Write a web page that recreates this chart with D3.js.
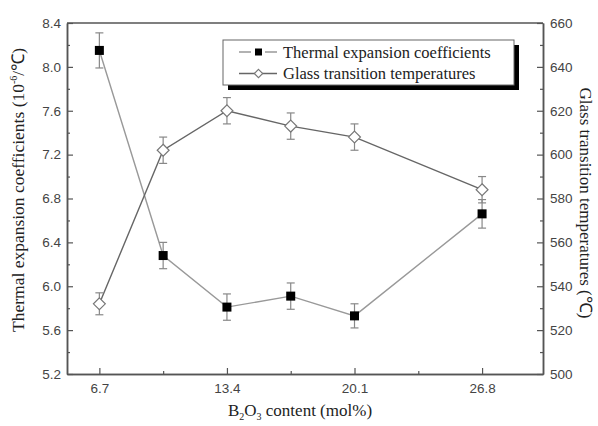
<!DOCTYPE html>
<html>
<head>
<meta charset="utf-8">
<script src="https://cdn.jsdelivr.net/npm/d3@7"></script>
<style>
  body { margin: 0; background: #fff; }
  .tick text { font-family: "Liberation Sans", Arial, sans-serif; font-size: 13.5px; fill: #444; }
  .serif { font-family: "Liberation Serif", "Times New Roman", serif; fill: #222; }
</style>
</head>
<body>
<div id="chart"></div>
<script>
// B2O3 content (mol%)
var content = [6.7, 10.05, 13.4, 16.75, 20.1, 26.8];
// Thermal expansion coefficients (10^-6/C) and error
var thermal = [8.15, 6.28, 5.81, 5.91, 5.73, 6.66];
var thermalErr = [0.16, 0.12, 0.12, 0.12, 0.11, 0.13];
// Glass transition temperatures (C) and error
var glass = [532, 602, 620, 613, 608, 584];
var glassErr = [5, 6, 6, 6, 6, 6];

var xTicks = [6.7, 13.4, 20.1, 26.8];
var xMinor = [10.05, 16.75, 23.45];
var leftTicks = [5.2, 5.6, 6.0, 6.4, 6.8, 7.2, 7.6, 8.0, 8.4];
var rightTicks = [500, 520, 540, 560, 580, 600, 620, 640, 660];

var margin = { top: 23, right: 55, bottom: 52, left: 67 };
var width = 598 - margin.left - margin.right;
var height = 426 - margin.top - margin.bottom;

var svg = d3.select("#chart").append("svg")
  .attr("width", 598).attr("height", 426)
  .append("g")
  .attr("transform", "translate(" + margin.left + "," + margin.top + ")");

var x = d3.scaleLinear().domain([5, 30]).range([0, width]);
var yL = d3.scaleLinear().domain([5.2, 8.4]).range([height, 0]);
var yR = d3.scaleLinear().domain([500, 660]).range([height, 0]);

var axisColor = "#555";

// minor ticks
function minors(ticks) {
  var out = [];
  for (var i = 0; i < ticks.length - 1; i++) out.push((ticks[i] + ticks[i + 1]) / 2);
  return out;
}

// x axis
svg.append("g").attr("transform", "translate(0," + height + ")")
  .call(d3.axisBottom(x).tickValues(xTicks).tickFormat(d3.format(".1f")).tickSizeInner(-6).tickSizeOuter(0).tickPadding(9));
svg.append("g").attr("transform", "translate(0," + height + ")")
  .call(d3.axisBottom(x).tickValues(xMinor).tickFormat("").tickSizeInner(-3).tickSizeOuter(0));

// left axis
svg.append("g")
  .call(d3.axisLeft(yL).tickValues(leftTicks).tickFormat(d3.format(".1f")).tickSizeInner(-6).tickSizeOuter(0).tickPadding(6));
svg.append("g")
  .call(d3.axisLeft(yL).tickValues(minors(leftTicks)).tickFormat("").tickSizeInner(-3).tickSizeOuter(0));

// right axis
svg.append("g").attr("transform", "translate(" + width + ",0)")
  .call(d3.axisRight(yR).tickValues(rightTicks).tickSizeInner(-6).tickSizeOuter(0).tickPadding(7));
svg.append("g").attr("transform", "translate(" + width + ",0)")
  .call(d3.axisRight(yR).tickValues(minors(rightTicks)).tickFormat("").tickSizeInner(-3).tickSizeOuter(0));

// top border
svg.append("line").attr("x1", 0).attr("x2", width).attr("y1", 0).attr("y2", 0)
  .attr("stroke", axisColor).attr("stroke-width", 1.5);

svg.selectAll(".domain").attr("stroke", axisColor).attr("stroke-width", 1.5);
svg.selectAll(".tick line").attr("stroke", axisColor).attr("stroke-width", 1.2);

// lines
var lineT = d3.line().x(function (d, i) { return x(content[i]); }).y(function (d) { return yL(d); });
var lineG = d3.line().x(function (d, i) { return x(content[i]); }).y(function (d) { return yR(d); });

svg.append("path").datum(thermal).attr("d", lineT)
  .attr("fill", "none").attr("stroke", "#999").attr("stroke-width", 1.4);
svg.append("path").datum(glass).attr("d", lineG)
  .attr("fill", "none").attr("stroke", "#666").attr("stroke-width", 1.4);

// error bars
function errorBars(vals, errs, y) {
  var g = svg.append("g").attr("stroke", "#888").attr("stroke-width", 1.2);
  vals.forEach(function (v, i) {
    var cx = x(content[i]);
    g.append("line").attr("x1", cx).attr("x2", cx).attr("y1", y(v - errs[i])).attr("y2", y(v + errs[i]));
    g.append("line").attr("x1", cx - 4).attr("x2", cx + 4).attr("y1", y(v - errs[i])).attr("y2", y(v - errs[i]));
    g.append("line").attr("x1", cx - 4).attr("x2", cx + 4).attr("y1", y(v + errs[i])).attr("y2", y(v + errs[i]));
  });
}
errorBars(thermal, thermalErr, yL);
errorBars(glass, glassErr, yR);

// markers
svg.selectAll(".sq").data(thermal).enter().append("rect")
  .attr("x", function (d, i) { return x(content[i]) - 4.5; })
  .attr("y", function (d) { return yL(d) - 4.5; })
  .attr("width", 9).attr("height", 9).attr("fill", "#000");

var diamond = d3.symbol().type(d3.symbolDiamond2).size(90);
svg.selectAll(".dm").data(glass).enter().append("path")
  .attr("d", diamond)
  .attr("transform", function (d, i) { return "translate(" + x(content[i]) + "," + yR(d) + ")"; })
  .attr("fill", "#fff").attr("stroke", "#777").attr("stroke-width", 1.2);

// legend
var lg = svg.append("g").attr("transform", "translate(" + (223 - margin.left) + "," + (40 - margin.top) + ")");
lg.append("rect").attr("x", 5).attr("y", 5).attr("width", 291).attr("height", 45).attr("fill", "#000");
lg.append("rect").attr("x", 0).attr("y", 0).attr("width", 291).attr("height", 45)
  .attr("fill", "#fff").attr("stroke", "#666").attr("stroke-width", 1);
var names = ["Thermal expansion coefficients", "Glass transition temperatures"];
var legendMarker = d3.symbol().type(d3.symbolDiamond2).size(45);
names.forEach(function (n, i) {
  var yy = 12 + i * 21.5;
  lg.append("line").attr("x1", 16).attr("x2", 54).attr("y1", yy).attr("y2", yy)
    .attr("stroke", i === 0 ? "#999" : "#666").attr("stroke-width", 1.4);
  if (i === 0) {
    lg.append("rect").attr("x", 28).attr("y", yy - 6).attr("width", 14).attr("height", 12).attr("fill", "#fff");
    lg.append("rect").attr("x", 32).attr("y", yy - 3.5).attr("width", 7).attr("height", 7).attr("fill", "#000");
  } else {
    lg.append("path").attr("d", legendMarker).attr("transform", "translate(35.5," + yy + ")")
      .attr("fill", "#fff").attr("stroke", "#777").attr("stroke-width", 1.1);
  }
  lg.append("text").attr("class", "serif").attr("x", 60).attr("y", yy + 5.5)
    .style("font-size", "16.5px").text(n);
});

// axis titles
var lt = svg.append("text").attr("class", "serif")
  .attr("transform", "translate(" + (24 - margin.left) + "," + (190 - margin.top) + ") rotate(-90)")
  .attr("text-anchor", "middle").style("font-size", "17.5px");
lt.append("tspan").text("Thermal expansion coefficients (10");
lt.append("tspan").attr("dy", -7).style("font-size", "10px").text("-6");
lt.append("tspan").attr("dy", 7).text("/\u2103)");

svg.append("text").attr("class", "serif")
  .attr("transform", "translate(" + (580 - margin.left) + "," + (203 - margin.top) + ") rotate(90)")
  .attr("text-anchor", "middle").style("font-size", "17px")
  .text("Glass transition temperatures (\u2103)");

var xt = svg.append("text").attr("class", "serif")
  .attr("x", 300 - margin.left).attr("y", 416 - margin.top)
  .attr("text-anchor", "middle").style("font-size", "17px");
xt.append("tspan").text("B");
xt.append("tspan").attr("dy", 4).style("font-size", "10px").text("2");
xt.append("tspan").attr("dy", -4).text("O");
xt.append("tspan").attr("dy", 4).style("font-size", "10px").text("3");
xt.append("tspan").attr("dy", -4).text(" content (mol%)");
</script>
</body>
</html>
